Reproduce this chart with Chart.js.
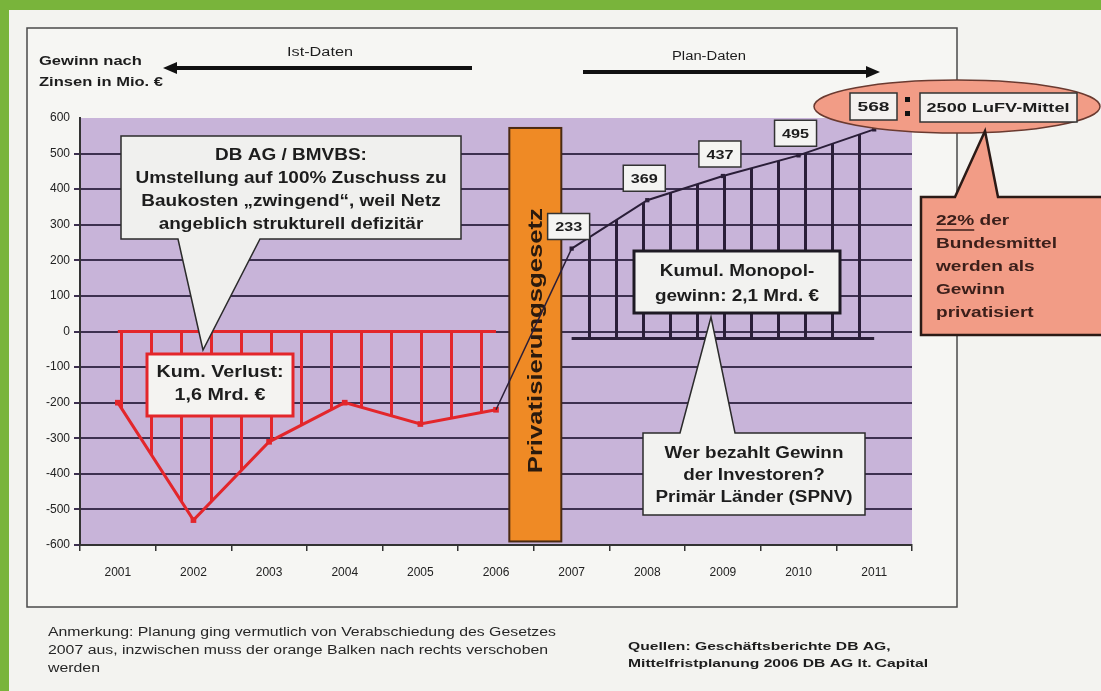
<!DOCTYPE html>
<html lang="de">
<head>
<meta charset="utf-8">
<title>Gewinn nach Zinsen – Ist- und Plan-Daten</title>
<script src="https://cdn.jsdelivr.net/npm/chart.js@4.4.1/dist/chart.umd.min.js"></script>
<style>
  html, body { margin: 0; padding: 0; }
  body { width: 1101px; height: 691px; background: #79b43b; position: relative; overflow: hidden; }
  #blatt { position: absolute; left: 9px; top: 10px; right: 0; bottom: 0; background: #f3f3f0; }
  #grafik { position: absolute; left: 0; top: 0; }
</style>
</head>
<body>
<div id="blatt"></div>
<canvas id="grafik" width="1101" height="691"></canvas>
<script>
// ---- Daten ----
const jahre = ["2001", "2002", "2003", "2004", "2005", "2006", "2007", "2008", "2009", "2010", "2011"];
const istDaten = [-200, -530, -310, -200, -260, -220];   // 2001-2006
const planDaten = [233, 369, 437, 495, 568];             // 2007-2011
const istBasis = 0;
const planBasis = -20;
const yMin = -600, yMax = 600, yStep = 100;

const SCHRIFT = '"Liberation Sans", Arial, sans-serif';
const ROT = "#e3262b";
const DUNKEL = "#2a1e38";
const LILA = "#c8b4d9";
const ORANGE = "#ef8a25";
const LACHS = "#f29c86";

const nIst = istDaten.length;
const ist = jahre.map((j, i) => i < nIst ? istDaten[i] : null);
const istNull = jahre.map((j, i) => i < nIst ? istBasis : null);
const plan = jahre.map((j, i) => i >= nIst ? planDaten[i - nIst] : null);
const planNull = jahre.map((j, i) => i >= nIst ? planBasis : null);
const uebergang = jahre.map((j, i) => i === nIst - 1 ? istDaten[nIst - 1] : (i === nIst ? planDaten[0] : null));

const canvas = document.getElementById("grafik");
const ctx = canvas.getContext("2d");

// senkrechte Schraffur als Muster
function streifen(farbe, abstand, versatz, breite) {
  const c = document.createElement("canvas");
  c.width = abstand; c.height = 4;
  const g = c.getContext("2d");
  g.fillStyle = farbe;
  g.fillRect(versatz, 0, breite, 4);
  return ctx.createPattern(c, "repeat");
}
const rotStreifen = streifen(ROT, 30, 0, 3);
const schwarzStreifen = streifen(DUNKEL, 27, 21, 3);

// ---- Hilfsfunktionen Zeichnen ----
function textBlock(c, zeilen, o) {
  c.save();
  c.font = o.font;
  c.fillStyle = o.farbe || "#1d1d1d";
  c.textBaseline = "middle";
  c.textAlign = "left";
  const breiten = zeilen.map(z => c.measureText(z).width);
  const sx = o.breite ? o.breite / Math.max(...breiten) : 1;
  zeilen.forEach((z, i) => {
    const w = breiten[i] * sx;
    let x = o.x;
    if (o.align === "center") x = o.x - w / 2;
    c.save();
    c.translate(x, o.y + i * (o.zeile || 0));
    c.scale(sx, 1);
    c.fillText(z, 0, 0);
    c.restore();
  });
  c.restore();
  return sx;
}

function blase(c, b) {
  c.save();
  c.beginPath();
  const { x, y, w, h } = b;
  if (b.seite === "unten") {
    c.moveTo(x, y); c.lineTo(x + w, y); c.lineTo(x + w, y + h);
    c.lineTo(b.basis[1], y + h); c.lineTo(b.spitze[0], b.spitze[1]); c.lineTo(b.basis[0], y + h);
    c.lineTo(x, y + h);
  } else if (b.seite === "oben") {
    c.moveTo(x, y); c.lineTo(b.basis[0], y); c.lineTo(b.spitze[0], b.spitze[1]); c.lineTo(b.basis[1], y);
    c.lineTo(x + w, y); c.lineTo(x + w, y + h); c.lineTo(x, y + h);
  } else {
    c.rect(x, y, w, h);
  }
  c.closePath();
  c.fillStyle = b.fill;
  c.fill();
  c.lineWidth = b.lw || 1.5;
  c.strokeStyle = b.stroke || "#2b2b2b";
  c.lineJoin = "miter";
  c.stroke();
  c.restore();
}

function pfeil(c, x0, x1, y) {
  const r = x1 > x0 ? 1 : -1;
  c.save();
  c.strokeStyle = "#111"; c.fillStyle = "#111";
  c.lineWidth = 4;
  c.beginPath(); c.moveTo(x0, y); c.lineTo(x1 - r * 12, y); c.stroke();
  c.beginPath(); c.moveTo(x1, y); c.lineTo(x1 - r * 14, y - 6); c.lineTo(x1 - r * 14, y + 6); c.closePath(); c.fill();
  c.restore();
}

const deko = {
  id: "deko",
  beforeDraw(chart) {
    const c = chart.ctx, a = chart.chartArea;
    c.save();
    c.fillStyle = "#f6f6f3";
    c.fillRect(27, 28, 930, 579);
    c.strokeStyle = "#4a4a4a"; c.lineWidth = 1.5;
    c.strokeRect(27, 28, 930, 579);
    c.fillStyle = LILA;
    c.fillRect(a.left, a.top, a.right - a.left, a.bottom - a.top);
    c.restore();
  },
  beforeDatasetsDraw(chart) {
    // Balken "Privatisierungsgesetz" zwischen 2006 und 2007
    const c = chart.ctx, xs = chart.scales.x, ys = chart.scales.y;
    const mitte = (xs.getPixelForValue(nIst - 1) + xs.getPixelForValue(nIst)) / 2 + 1.5;
    const oben = ys.getPixelForValue(572), unten = ys.getPixelForValue(-590);
    c.save();
    c.fillStyle = ORANGE;
    c.fillRect(mitte - 26, oben, 52, unten - oben);
    c.strokeStyle = "#4a2a12"; c.lineWidth = 2;
    c.strokeRect(mitte - 26, oben, 52, unten - oben);
    c.translate(mitte + 1, (oben + unten) / 2 + 6);
    c.rotate(-Math.PI / 2);
    textBlock(c, ["Privatisierungsgesetz"], { x: 0, y: 0, font: "bold 20px " + SCHRIFT, align: "center", breite: 265, farbe: "#2a1a0e" });
    c.restore();
  },
  afterDraw(chart) {
    const c = chart.ctx;
    const fett = s => "bold " + s + "px " + SCHRIFT;

    // Achsentitel und Pfeile
    textBlock(c, ["Gewinn nach", "Zinsen in Mio. €"], { x: 39, y: 61, zeile: 21, font: fett(13), breite: 124 });
    textBlock(c, ["Ist-Daten"], { x: 320, y: 53, font: "12px " + SCHRIFT, align: "center", breite: 66 });
    textBlock(c, ["Plan-Daten"], { x: 709, y: 57, font: "12px " + SCHRIFT, align: "center", breite: 74 });
    pfeil(c, 472, 163, 68);
    pfeil(c, 583, 880, 72);

    // Sprechblase DB AG / BMVBS
    blase(c, { x: 121, y: 136, w: 340, h: 103, seite: "unten", basis: [178, 260], spitze: [203, 350], fill: "#f0f0ee" });
    textBlock(c, ["DB AG / BMVBS:", "Umstellung auf 100% Zuschuss zu", "Baukosten \u201Ezwingend\u201C, weil Netz", "angeblich strukturell defizitär"],
      { x: 291, y: 156, zeile: 23, font: fett(16), align: "center", breite: 311 });

    // Kum. Verlust
    blase(c, { x: 147, y: 354, w: 146, h: 62, fill: "#f4f3f1", stroke: ROT, lw: 3 });
    textBlock(c, ["Kum. Verlust:", "1,6 Mrd. €"], { x: 220, y: 373, zeile: 23, font: fett(16), align: "center", breite: 127 });

    // Kumul. Monopolgewinn
    blase(c, { x: 634, y: 251, w: 206, h: 62, fill: "#f2f2f0", stroke: "#1e1a24", lw: 3 });
    textBlock(c, ["Kumul. Monopol-", "gewinn: 2,1 Mrd. €"], { x: 737, y: 272, zeile: 25, font: fett(16), align: "center", breite: 164 });

    // Wer bezahlt Gewinn
    blase(c, { x: 643, y: 433, w: 222, h: 82, seite: "oben", basis: [680, 735], spitze: [711, 317], fill: "#f2f2f0" });
    textBlock(c, ["Wer bezahlt Gewinn", "der Investoren?", "Primär Länder (SPNV)"], { x: 754, y: 454, zeile: 22, font: fett(16), align: "center", breite: 197 });

    // Wertbeschriftung Plan-Daten
    const meta = chart.getDatasetMeta(2);
    for (let i = nIst; i < jahre.length - 1; i++) {
      const pt = meta.data[i];
      const cx = pt.x - 3, cy = pt.y - 22;
      blase(c, { x: cx - 21, y: cy - 13, w: 42, h: 26, fill: "#f4f4f2", stroke: "#333", lw: 1.5 });
      textBlock(c, [String(planDaten[i - nIst])], { x: cx, y: cy + 1, font: fett(13), align: "center", breite: 27 });
    }

    // Ellipse 568 : 2500 LuFV-Mittel
    c.save();
    c.beginPath();
    c.ellipse(957, 106.5, 143, 26.5, 0, 0, Math.PI * 2);
    c.fillStyle = LACHS; c.fill();
    c.strokeStyle = "#6a3a30"; c.lineWidth = 1.5; c.stroke();
    c.restore();

    // Sprechblase 22 %
    blase(c, { x: 921, y: 197, w: 190, h: 138, seite: "oben", basis: [955, 998], spitze: [985, 131], fill: LACHS, stroke: "#2b1a16", lw: 2.5 });
    const sx = textBlock(c, ["22% der", "Bundesmittel", "werden als", "Gewinn", "privatisiert"],
      { x: 936, y: 221, zeile: 23, font: fett(15), breite: 121, farbe: "#3b1f1a" });
    c.save();
    c.font = fett(15);
    const uw = c.measureText("22%").width * sx;
    c.strokeStyle = "#3b1f1a"; c.lineWidth = 1.5;
    c.beginPath(); c.moveTo(936, 230); c.lineTo(936 + uw, 230); c.stroke();
    c.restore();

    blase(c, { x: 850, y: 93, w: 47, h: 27, fill: "#f4f1ef", stroke: "#333", lw: 1.5 });
    textBlock(c, [String(planDaten[planDaten.length - 1])], { x: 873.5, y: 107, font: fett(13), align: "center", breite: 32 });
    c.save();
    c.fillStyle = "#111";
    c.fillRect(905, 97, 5, 5);
    c.fillRect(905, 111, 5, 5);
    c.restore();
    blase(c, { x: 920, y: 93, w: 157, h: 29, fill: "#f4f1ef", stroke: "#333", lw: 1.5 });
    textBlock(c, ["2500 LuFV-Mittel"], { x: 998, y: 108, font: fett(13), align: "center", breite: 143 });

    // Fussnoten
    textBlock(c, ["Anmerkung: Planung ging vermutlich von Verabschiedung des Gesetzes",
                  "2007 aus, inzwischen muss der orange Balken nach rechts verschoben",
                  "werden"], { x: 48, y: 633, zeile: 18, font: "12px " + SCHRIFT, breite: 508, farbe: "#262626" });
    textBlock(c, ["Quellen: Geschäftsberichte DB AG,", "Mittelfristplanung 2006 DB AG lt. Capital"],
      { x: 628, y: 647, zeile: 17, font: fett(11), breite: 300, farbe: "#1d1d1d" });
  }
};

new Chart(canvas, {
  type: "line",
  data: {
    labels: jahre,
    datasets: [
      { label: "Ist", data: ist, borderColor: ROT, borderWidth: 3, backgroundColor: rotStreifen,
        fill: { value: istBasis }, pointStyle: "rect", pointRadius: 4, pointBackgroundColor: ROT, pointBorderWidth: 0, order: 3 },
      { label: "Ist-Basis", data: istNull, borderColor: ROT, borderWidth: 3, pointRadius: 0, fill: false, order: 2 },
      { label: "Plan", data: plan, borderColor: DUNKEL, borderWidth: 2, backgroundColor: schwarzStreifen,
        fill: { value: planBasis }, pointStyle: "rect", pointRadius: 3, pointBackgroundColor: DUNKEL, pointBorderWidth: 0, order: 3 },
      { label: "Plan-Basis", data: planNull, borderColor: DUNKEL, borderWidth: 3, pointRadius: 0, fill: false, order: 2 },
      { label: "Übergang", data: uebergang, borderColor: DUNKEL, borderWidth: 1.5, pointRadius: 0, fill: false, order: 0 }
    ]
  },
  options: {
    responsive: false,
    animation: false,
    events: [],
    layout: { padding: { left: 30, right: 189, top: 118, bottom: 106 } },
    plugins: { legend: { display: false }, tooltip: { enabled: false } },
    scales: {
      x: {
        offset: true,
        grid: { offset: true, drawOnChartArea: false, drawTicks: true, tickLength: 6, color: "#333", lineWidth: 1.5 },
        border: { color: "#333", width: 2 },
        ticks: { color: "#222", font: { size: 12, family: SCHRIFT }, padding: 14, maxRotation: 0, autoSkip: false },
        afterFit(s) { s.height = 40; }
      },
      y: {
        min: yMin, max: yMax,
        ticks: { stepSize: yStep, color: "#222", font: { size: 12, family: SCHRIFT }, padding: 4 },
        grid: { color: c => c.tick && c.tick.value === yMax ? "rgba(0,0,0,0)" : "#3d3050", lineWidth: 2, tickLength: 6 },
        border: { color: "#333", width: 2 },
        afterFit(s) { s.width = 50; }
      }
    }
  },
  plugins: [deko]
});
</script>
</body>
</html>
